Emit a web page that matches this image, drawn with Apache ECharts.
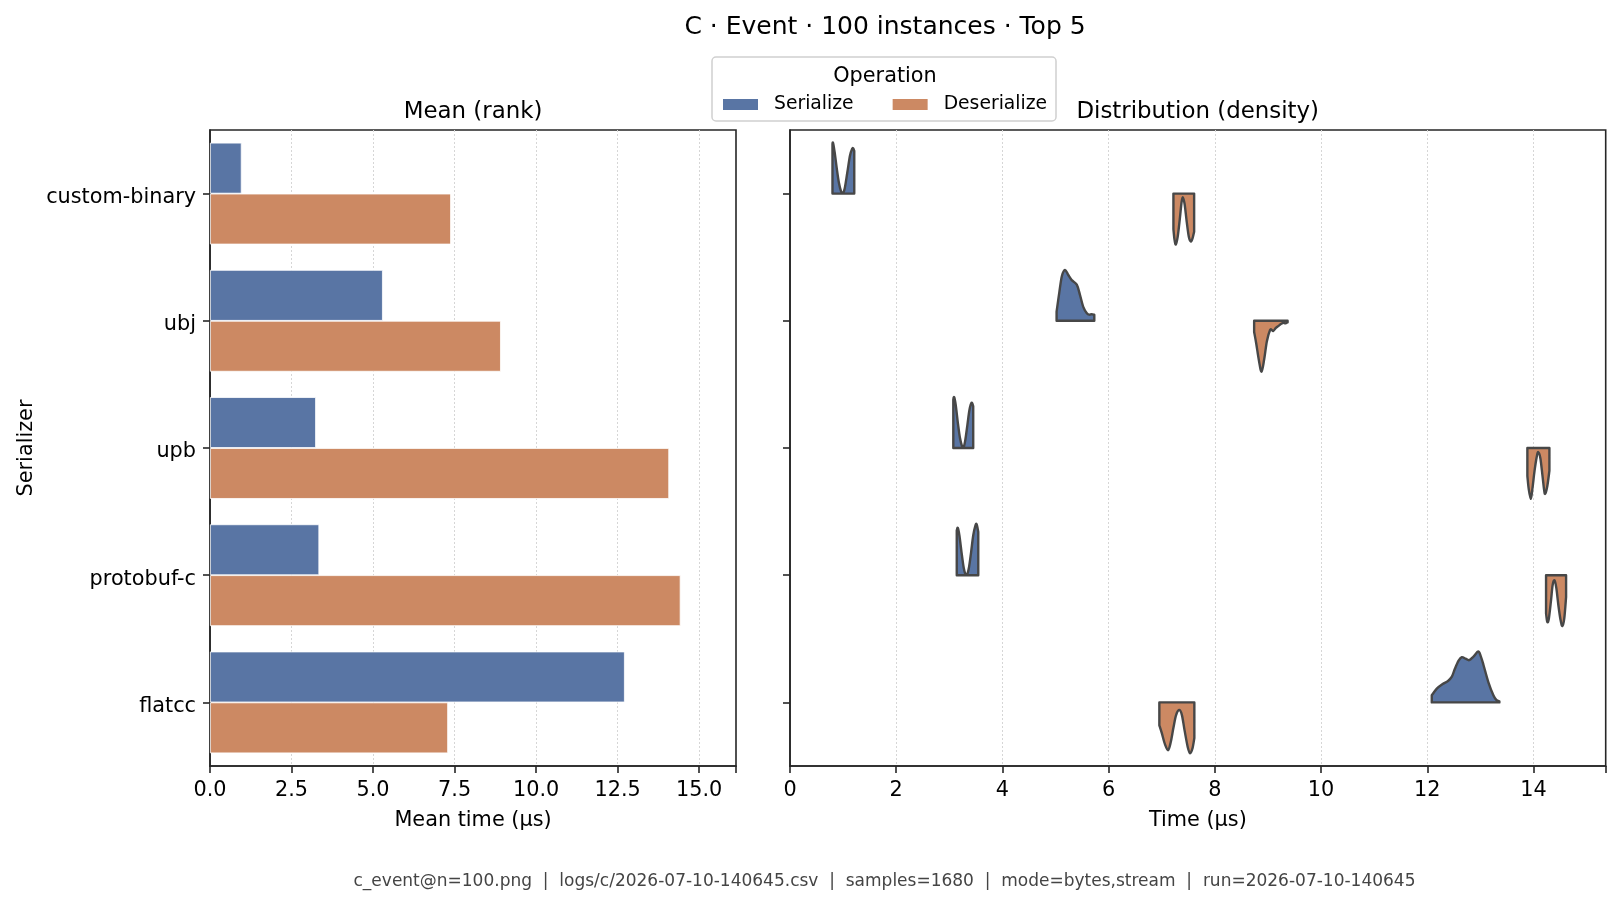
<!DOCTYPE html>
<html>
<head>
<meta charset="utf-8">
<script src="https://cdn.jsdelivr.net/npm/echarts@6/dist/echarts.min.js"></script>
<style>
  html, body { margin: 0; padding: 0; background: #fff; }
  #main { width: 1619px; height: 905px; }
</style>
</head>
<body>
<div id="main"></div>
<script>
const categories = ['custom-binary', 'ubj', 'upb', 'protobuf-c', 'flatcc'];
const meanSerialize = [0.97, 5.30, 3.25, 3.35, 12.72];
const meanDeserialize = [7.39, 8.92, 14.08, 14.43, 7.30];

// density outlines: [time µs, density relative to violin max]
const densSerCustomBinary = [[0.80, 0.97], [0.81, 1.0], [0.84, 0.82], [0.88, 0.5], [0.92, 0.22], [0.96, 0.05], [0.99, 0.0], [1.03, 0.1], [1.08, 0.42], [1.13, 0.75], [1.17, 0.88], [1.19, 0.89], [1.21, 0.84]];
const densSerUbj = [[5.02, 0.18], [5.07, 0.55], [5.12, 0.88], [5.18, 1.0], [5.24, 0.9], [5.305, 0.8], [5.40, 0.71], [5.46, 0.51], [5.52, 0.28], [5.59, 0.15], [5.64, 0.12], [5.68, 0.13], [5.73, 0.12]];
const densSerUpb = [[3.075, 0.95], [3.09, 1.0], [3.12, 0.85], [3.16, 0.5], [3.20, 0.2], [3.24, 0.03], [3.265, 0.0], [3.30, 0.15], [3.34, 0.45], [3.38, 0.75], [3.42, 0.89], [3.45, 0.82]];
const densSerProtobuf = [[3.14, 0.88], [3.16, 0.93], [3.19, 0.78], [3.23, 0.45], [3.27, 0.15], [3.30, 0.03], [3.33, 0.0], [3.37, 0.15], [3.41, 0.45], [3.45, 0.78], [3.49, 0.97], [3.515, 1.0], [3.545, 0.85]];
const densSerFlatcc = [[12.085, 0.14], [12.18, 0.27], [12.29, 0.36], [12.39, 0.42], [12.46, 0.5], [12.52, 0.66], [12.59, 0.82], [12.65, 0.89], [12.72, 0.86], [12.79, 0.83], [12.87, 0.9], [12.96, 1.0], [13.01, 0.9], [13.06, 0.73], [13.15, 0.4], [13.245, 0.14], [13.30, 0.05], [13.358, 0.02]];

const densDesCustomBinary = [[7.22, 0.7], [7.24, 0.9], [7.265, 1.0], [7.30, 0.85], [7.34, 0.5], [7.37, 0.2], [7.395, 0.07], [7.43, 0.2], [7.47, 0.55], [7.51, 0.85], [7.545, 0.94], [7.58, 0.88], [7.61, 0.75]];
const densDesUbj = [[8.74, 0.22], [8.78, 0.45], [8.83, 0.78], [8.88, 1.0], [8.93, 0.75], [8.98, 0.4], [9.04, 0.18], [9.07, 0.18], [9.10, 0.2], [9.15, 0.14], [9.20, 0.1], [9.25, 0.06], [9.29, 0.04], [9.33, 0.05], [9.37, 0.03]];
const densDesUpb = [[13.885, 0.55], [13.91, 0.8], [13.95, 1.0], [13.98, 0.8], [14.02, 0.45], [14.06, 0.18], [14.09, 0.08], [14.13, 0.2], [14.17, 0.55], [14.20, 0.82], [14.22, 0.9], [14.26, 0.75], [14.30, 0.45]];
const densDesProtobuf = [[14.237, 0.75], [14.26, 0.92], [14.29, 0.85], [14.33, 0.5], [14.36, 0.2], [14.395, 0.1], [14.43, 0.25], [14.47, 0.6], [14.51, 0.88], [14.545, 1.0], [14.58, 0.85], [14.614, 0.43]];
const densDesFlatcc = [[6.955, 0.45], [7.00, 0.6], [7.06, 0.82], [7.12, 0.94], [7.17, 0.78], [7.22, 0.5], [7.27, 0.25], [7.33, 0.15], [7.38, 0.25], [7.43, 0.55], [7.49, 0.88], [7.535, 1.0], [7.58, 0.9], [7.614, 0.7]];

const serProfiles = [densSerCustomBinary, densSerUbj, densSerUpb, densSerProtobuf, densSerFlatcc];
const desProfiles = [densDesCustomBinary, densDesUbj, densDesUpb, densDesProtobuf, densDesFlatcc];

const BLUE = '#5975a4';
const ORANGE = '#cc8963';
const FONT = 'DejaVu Sans';

const chart = echarts.init(document.getElementById('main'));

// half violin: side 1 draws above the category line, -1 below
function violin(profiles, side) {
  return function (params, api) {
    const idx = params.dataIndex;
    const prof = profiles[idx];
    const cy = api.coord([0, idx])[1];
    const half = api.size([0, 1])[1] * 0.4;
    const pts = prof.map(p => [api.coord([p[0], idx])[0], cy - side * p[1] * half]);
    const clampY = y => side > 0 ? Math.min(y, cy) : Math.max(y, cy);
    let d = 'M' + pts[0][0] + ',' + cy + 'L' + pts[0][0] + ',' + pts[0][1];
    for (let i = 0; i < pts.length - 1; i++) {
      const p0 = pts[i - 1] || pts[i], p1 = pts[i], p2 = pts[i + 1], p3 = pts[i + 2] || pts[i + 1];
      const c1 = [p1[0] + (p2[0] - p0[0]) / 6, clampY(p1[1] + (p2[1] - p0[1]) / 6)];
      const c2 = [p2[0] - (p3[0] - p1[0]) / 6, clampY(p2[1] - (p3[1] - p1[1]) / 6)];
      d += 'C' + c1.join(',') + ',' + c2.join(',') + ',' + p2.join(',');
    }
    const last = pts[pts.length - 1];
    d += 'L' + last[0] + ',' + cy + 'Z';
    return {
      type: 'path',
      shape: { pathData: d },
      style: {
        fill: api.visual('color'),
        stroke: '#474747',
        lineWidth: 2.4,
        lineJoin: 'round'
      }
    };
  };
}

const axisLineStyle = { color: '#262626', width: 1.6 };
const gridLine = { show: true, showMinLine: false, showMaxLine: false,
  lineStyle: { color: '#d6d6d6', width: 1, type: [2, 2] } };

const option = {
  animation: false,
  textStyle: { fontFamily: FONT },
  title: [
    { text: 'C · Event · 100 instances · Top 5', left: 885, top: 15, textAlign: 'center', padding: 0,
      textStyle: { fontSize: 25, fontWeight: 'normal', color: '#000', fontFamily: FONT } },
    { text: 'Mean (rank)', left: 473, top: 101, textAlign: 'center', padding: 0,
      textStyle: { fontSize: 22.9, fontWeight: 'normal', color: '#000', fontFamily: FONT } },
    { text: 'Distribution (density)', left: 1197.7, top: 101, textAlign: 'center', padding: 0,
      textStyle: { fontSize: 22.9, fontWeight: 'normal', color: '#000', fontFamily: FONT } },
    { text: 'Operation', left: 885, top: 66, textAlign: 'center', padding: 0, z: 10,
      textStyle: { fontSize: 20.8, fontWeight: 'normal', color: '#000', fontFamily: FONT } },
    { text: 'c_event@n=100.png  |  logs/c/2026-07-10-140645.csv  |  samples=1680  |  mode=bytes,stream  |  run=2026-07-10-140645',
      left: 884.5, top: 873, textAlign: 'center', padding: 0,
      textStyle: { fontSize: 17, fontWeight: 'normal', color: '#444', fontFamily: FONT } }
  ],
  graphic: [
    { type: 'rect', z: 1, shape: { x: 712, y: 57, width: 344, height: 64, r: 4 },
      style: { fill: 'rgba(255,255,255,0.8)', stroke: '#d0d0d0', lineWidth: 1.5 } }
  ],
  legend: {
    data: ['Serialize', 'Deserialize'],
    left: 721, top: 95, padding: 0, z: 10,
    icon: 'rect', itemWidth: 37, itemHeight: 13, itemGap: 37,
    textStyle: { fontSize: 18.75, color: '#000', fontFamily: FONT, padding: [0, 0, 0, 10] }
  },
  grid: [
    { left: 210, top: 130, width: 526, height: 636, outerBoundsMode: 'none', containLabel: false,
      show: true, borderColor: '#262626', borderWidth: 1.6 },
    { left: 790, top: 130, width: 815.7, height: 636, outerBoundsMode: 'none', containLabel: false,
      show: true, borderColor: '#262626', borderWidth: 1.6 }
  ],
  xAxis: [
    { type: 'value', gridIndex: 0, min: 0, max: 16.13, interval: 2.5,
      name: 'Mean time (µs)', nameLocation: 'middle', nameGap: 44,
      nameTextStyle: { fontSize: 20.8, color: '#000', fontFamily: FONT },
      axisLine: { show: true, lineStyle: axisLineStyle },
      axisTick: { show: true, length: 7, lineStyle: axisLineStyle },
      axisLabel: { fontSize: 20.8, color: '#000', margin: 14,
        formatter: v => (v <= 15 ? v.toFixed(1) : '') },
      splitLine: gridLine },
    { type: 'value', gridIndex: 1, min: 0, max: 15.36, interval: 2,
      name: 'Time (µs)', nameLocation: 'middle', nameGap: 44,
      nameTextStyle: { fontSize: 20.8, color: '#000', fontFamily: FONT },
      axisLine: { show: true, lineStyle: axisLineStyle },
      axisTick: { show: true, length: 7, lineStyle: axisLineStyle },
      axisLabel: { fontSize: 20.8, color: '#000', margin: 14,
        formatter: v => (v % 2 === 0 ? String(v) : '') },
      splitLine: gridLine }
  ],
  yAxis: [
    { type: 'category', gridIndex: 0, data: categories, inverse: true,
      name: 'Serializer', nameLocation: 'middle', nameGap: 173,
      nameTextStyle: { fontSize: 20.8, color: '#000', fontFamily: FONT },
      axisLine: { show: true, lineStyle: axisLineStyle },
      axisTick: { show: true, alignWithLabel: true, length: 7, lineStyle: axisLineStyle },
      axisLabel: { color: '#000', margin: 14, formatter: '{t|{value}}',
        rich: { t: { fontSize: 20.8, color: '#000', fontFamily: FONT, padding: [8, 0, 0, 0] } } },
      splitLine: { show: false } },
    { type: 'category', gridIndex: 1, data: categories, inverse: true,
      axisLine: { show: true, lineStyle: axisLineStyle },
      axisTick: { show: true, alignWithLabel: true, length: 7, lineStyle: axisLineStyle },
      axisLabel: { show: false },
      splitLine: { show: false } }
  ],
  series: [
    { type: 'bar', name: 'Serialize', xAxisIndex: 0, yAxisIndex: 0, data: meanSerialize,
      barGap: '0%', barCategoryGap: '20%',
      itemStyle: { color: BLUE, borderColor: '#fff', borderWidth: 0.8 } },
    { type: 'bar', name: 'Deserialize', xAxisIndex: 0, yAxisIndex: 0, data: meanDeserialize,
      barGap: '0%', barCategoryGap: '20%',
      itemStyle: { color: ORANGE, borderColor: '#fff', borderWidth: 0.8 } },
    { type: 'custom', name: 'Serialize density', xAxisIndex: 1, yAxisIndex: 1,
      itemStyle: { color: BLUE }, encode: { x: 0, y: 1 },
      data: serProfiles.map((p, i) => [p[0][0], i]),
      renderItem: violin(serProfiles, 1) },
    { type: 'custom', name: 'Deserialize density', xAxisIndex: 1, yAxisIndex: 1,
      itemStyle: { color: ORANGE }, encode: { x: 0, y: 1 },
      data: desProfiles.map((p, i) => [p[0][0], i]),
      renderItem: violin(desProfiles, -1) }
  ]
};

chart.setOption(option);
</script>
</body>
</html>
